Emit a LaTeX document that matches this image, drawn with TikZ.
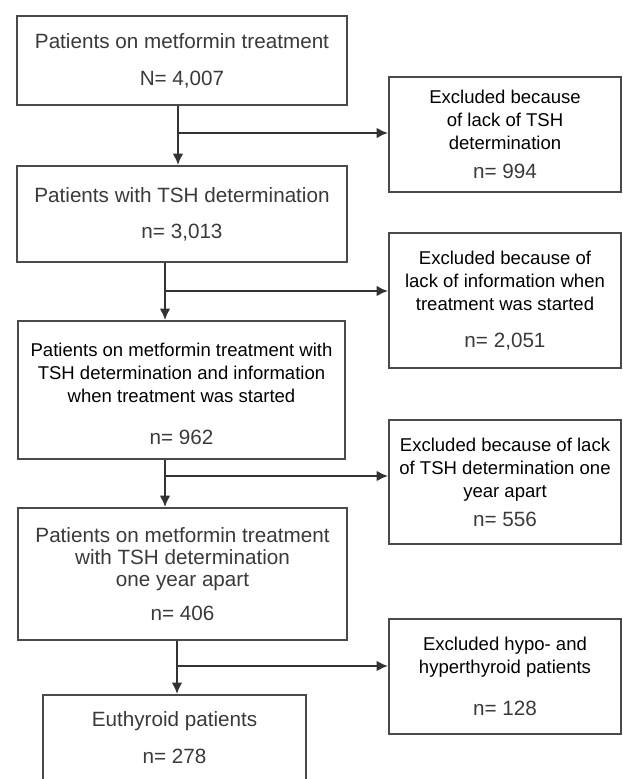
\documentclass[tikz,border=0pt]{standalone}
\usepackage{fontspec}
\setmainfont{Liberation Sans}
\usepackage{tikz}
\usetikzlibrary{positioning,arrows.meta}
\definecolor{boxgray}{HTML}{4A4A4A}
\definecolor{textgray}{HTML}{3A3A3A}
\definecolor{arrowgray}{HTML}{333333}
\newcommand{\gtext}[1]{{\color{textgray}\fontsize{15.5}{17}\selectfont #1}}
\tikzset{
    block/.style = {
        draw=boxgray,
        shape=rectangle,
        line width=1.5pt,
        inner sep=0pt,
        align=center,
        font=\fontsize{13.9}{17.25}\selectfont
    },
    mainbox/.style = {
        block,
        minimum width=247.5pt
    },
    exclbox/.style = {
        block,
        minimum width=174pt
    },
    flow/.style = {
        draw=arrowgray,
        line width=1.5pt
    },
    >={Latex[length=8.5pt,width=8pt]},
}
\begin{document}
\begin{tikzpicture}[x=0.75pt,y=-0.75pt]
                \useasboundingbox (0,0) rectangle (623,779);

                \node[mainbox, minimum height=66.75pt] (start) at (182,60.5)
                {\gtext{Patients on metformin treatment}\\[10.5pt]\gtext{N= 4,007}};
                \node[mainbox, minimum height=72pt] (tsh) at (182,214)
                {\gtext{Patients with TSH  determination}\\[10pt]\gtext{n= 3,013}};
                \node[block, minimum width=245.25pt, minimum height=103.5pt] (info) at (181.5,390)
                {\rule{0pt}{16pt}Patients on metformin treatment with\\TSH determination and information\\when treatment was started\\[14pt]\gtext{n= 962}};
                \node[block, minimum width=246.75pt, minimum height=99pt] (year) at (182.5,574)
                {\gtext{Patients on metformin treatment}\\[-0.5pt]\gtext{with TSH determination}\\[-0.5pt]\gtext{one year apart}\\[8pt]\gtext{n= 406}};
                \node[block, minimum width=197.25pt, minimum height=64.5pt] (euth) at (174.5,738)
                {\gtext{Euthyroid patients}\\[10.5pt]\gtext{n= 278}};

                \node[exclbox, minimum height=86.25pt] (excl1) at (505,134.5)
                {Excluded because\\of lack of TSH\\determination\\[4.5pt]\gtext{n= 994}};
                \node[exclbox, minimum height=101.25pt] (excl2) at (505,300.5)
                {Excluded because of\\lack of information when\\treatment was started\\[11pt]\gtext{n= 2,051}};
                \node[exclbox, minimum height=93pt] (excl3) at (505,482)
                {Excluded because of lack\\of TSH determination one\\year apart\\[4.5pt]\gtext{n= 556}};
                \node[exclbox, minimum height=86.25pt] (excl4) at (505,676.5)
                {Excluded hypo- and\\hyperthyroid patients\\[14pt]\gtext{n= 128}};

                \coordinate (j1) at (178,133);
                \coordinate (j2) at (165,291);
                \coordinate (j3) at (165,476);
                \coordinate (j4) at (177,666);

                \path[flow, ->] (start.south -| j1) -- (tsh.north -| j1);
                \path[flow, ->] (j1) -- (excl1.west |- j1);
                \path[flow, ->] (tsh.south -| j2) -- (info.north -| j2);
                \path[flow, ->] (j2) -- (excl2.west |- j2);
                \path[flow, ->] (info.south -| j3) -- (year.north -| j3);
                \path[flow, ->] (j3) -- (excl3.west |- j3);
                \path[flow, ->] (year.south -| j4) -- (euth.north -| j4);
                \path[flow, ->] (j4) -- (excl4.west |- j4);
            \end{tikzpicture}
\end{document}
